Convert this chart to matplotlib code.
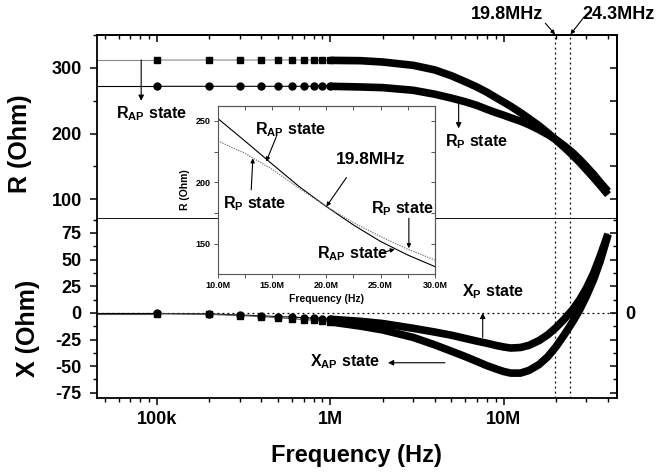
import numpy as np
import matplotlib
matplotlib.use('Agg')
import matplotlib.pyplot as plt
from matplotlib.ticker import FixedLocator, FuncFormatter, LogLocator, MultipleLocator, NullFormatter

plt.rcParams['font.family'] = ['Liberation Sans', 'DejaVu Sans']
plt.rcParams['font.weight'] = 'bold'
plt.rcParams['mathtext.fontset'] = 'custom'
plt.rcParams['mathtext.rm'] = 'Liberation Sans:bold'
plt.rcParams['mathtext.it'] = 'Liberation Sans:bold'
plt.rcParams['mathtext.bf'] = 'Liberation Sans:bold'
plt.rcParams['axes.unicode_minus'] = False

# DATA
freq = [100e3, 200e3, 300e3, 400e3, 500e3, 600e3, 700e3, 800e3, 900e3,
        1e6, 1.5e6, 2e6, 3e6, 4e6, 5e6, 6e6, 7e6, 8e6, 9e6, 10e6,
        11e6, 12.5e6, 14e6, 16e6, 18e6, 20e6, 22.5e6, 25e6, 27.5e6, 30e6,
        33e6, 36e6, 40e6]

r_ap = [312, 312, 312, 312, 312, 312, 312, 312, 312,
        311.5, 311, 309, 304, 297, 288, 279, 271, 263, 255, 248,
        241.5, 232, 223, 212, 201, 190.5, 178.5, 167, 156, 145,
        133, 121.5, 107]
r_p = [272, 272, 272, 272, 272, 272, 272, 272, 272,
       272, 271, 270, 266, 260, 254, 248.5, 243, 237, 232, 228,
       224, 219, 213.5, 206, 198.5, 191, 181, 171, 160.5, 150,
       138, 126, 112]

x_ap = [-0.8, -1.5, -2.5, -3.5, -4.5, -5.5, -6.3, -7.0, -7.8,
        -8.5, -12.5, -16, -23, -30, -36, -41, -45.5, -49.5, -52.5, -55,
        -56.5, -56.5, -54, -48.5, -41, -32, -20, -8.5, 3, 15.5,
        31, 48, 73]
x_p = [-0.6, -1.0, -2.0, -2.8, -3.5, -4.0, -4.5, -5.0, -5.5,
       -6, -8, -10, -14.5, -18, -21, -24, -26.5, -28.5, -30.5, -32,
       -33, -32.5, -30.5, -26, -20.5, -14, -5.5, 3, 12.5, 23,
       37, 53, 74]

inset_freq = [10e6, 12.5e6, 15e6, 17.5e6, 20e6, 22.5e6, 25e6, 27.5e6, 30e6]
inset_r_ap = [252, 233.7, 215, 196.6, 180.4, 165.4, 152, 141, 131.6]
inset_r_p = [233.7, 223.7, 210.7, 195.3, 180.4, 167.3, 156, 145.7, 137]

f_marks = [19.8e6, 24.3e6]
f_mark_labels = ['19.8MHz', '24.3MHz']

freq = np.array(freq)
r_ap = np.array(r_ap)
r_p = np.array(r_p)
x_ap = np.array(x_ap)
x_p = np.array(x_p)

XMIN, XMAX = 45e3, 45e6
n_sparse = 10   # points up to 1 MHz show as separate markers

fig = plt.figure(figsize=(6.64, 4.74), dpi=100)
ax1 = fig.add_axes([0.146, 0.538, 0.783, 0.388])
ax2 = fig.add_axes([0.146, 0.160, 0.783, 0.378], sharex=ax1)


def draw_series(ax, f, y, marker, ms, thin_color):
    ax.plot([XMIN, f[0]], [y[0], y[0]], color=thin_color, lw=0.8)
    ax.plot(f, y, color=thin_color, lw=0.8)
    ax.plot(f[:n_sparse], y[:n_sparse], ls='none', marker=marker, ms=ms, color='k')
    ax.plot(f[n_sparse - 1:], y[n_sparse - 1:], color='k', lw=5.5,
            solid_capstyle='butt', solid_joinstyle='round')


def arrow(ax, start, end, lw=0.8, ms=8):
    ax.annotate('', xy=end, xytext=start, annotation_clip=False,
                arrowprops=dict(arrowstyle='-|>', color='k', lw=lw,
                                mutation_scale=ms, shrinkA=0, shrinkB=0))


# top panel: R
draw_series(ax1, freq, r_ap, 's', 4.5, '#888888')
draw_series(ax1, freq, r_p, 'o', 5.0, 'k')

# bottom panel: X
ax2.axhline(0, color='k', lw=0.9, ls=(0, (1.5, 2.5)))
draw_series(ax2, freq, x_p, 'o', 5.0, 'k')
draw_series(ax2, freq, x_ap, 's', 4.5, '#555555')

for ax in (ax1, ax2):
    for fm in f_marks:
        ax.axvline(fm, color='k', lw=0.9, ls=(0, (1.5, 2.5)))

ax1.set_xscale('log')
ax1.set_xlim(XMIN, XMAX)
ax1.set_ylim(70, 350)
ax2.set_ylim(-80, 88)

# ticks
for ax in (ax1, ax2):
    for s in ax.spines.values():
        s.set_linewidth(1.3)
    ax.tick_params(which='major', direction='out', length=5, width=1.1, labelsize=13, pad=6)
    ax.tick_params(which='minor', direction='out', length=3, width=1.0)

ax1.yaxis.set_major_locator(FixedLocator([100, 200, 300]))
ax1.yaxis.set_minor_locator(MultipleLocator(50))
ax1.tick_params(axis='x', which='both', bottom=False, labelbottom=False)
ax2.yaxis.set_major_locator(MultipleLocator(25))
ax2.yaxis.set_minor_locator(MultipleLocator(12.5))
ax2.xaxis.set_major_locator(FixedLocator([1e5, 1e6, 1e7]))
ax2.xaxis.set_major_formatter(FuncFormatter(lambda v, p: {1e5: '100k', 1e6: '1M', 1e7: '10M'}.get(v, '')))
ax2.xaxis.set_minor_locator(LogLocator(base=10, subs=np.arange(2, 10)))
ax2.xaxis.set_minor_formatter(NullFormatter())
ax2.tick_params(axis='x', which='major', pad=4)
ax2.spines['top'].set_visible(False)

# mirrored ticks pointing inward
top1 = ax1.secondary_xaxis('top')
top1.xaxis.set_major_locator(FixedLocator([1e5, 1e6, 1e7]))
top1.xaxis.set_minor_locator(LogLocator(base=10, subs=np.arange(2, 10)))
top1.xaxis.set_major_formatter(NullFormatter())
top1.xaxis.set_minor_formatter(NullFormatter())
top1.tick_params(which='major', direction='in', length=5, width=1.1)
top1.tick_params(which='minor', direction='in', length=3, width=1.0)

right1 = ax1.secondary_yaxis('right')
right1.yaxis.set_major_locator(MultipleLocator(50))
right1.yaxis.set_major_formatter(NullFormatter())
right1.tick_params(which='major', direction='in', length=5, width=1.1)

right2 = ax2.secondary_yaxis('right')
right2.yaxis.set_major_locator(MultipleLocator(25))
right2.yaxis.set_minor_locator(MultipleLocator(12.5))
right2.yaxis.set_major_formatter(FuncFormatter(lambda v, p: '0' if abs(v) < 1e-9 else ''))
right2.tick_params(which='major', direction='in', length=5, width=1.1, labelsize=13, pad=6)
right2.tick_params(which='minor', direction='in', length=3, width=1.0)
for sa in (top1, right1, right2):
    for s in sa.spines.values():
        s.set_linewidth(1.3)

ax1.set_ylabel('R (Ohm)', fontsize=18, fontweight='bold')
ax2.set_ylabel('X (Ohm)', fontsize=18, fontweight='bold')
ax1.yaxis.set_label_coords(-0.125, 0.41)
ax2.yaxis.set_label_coords(-0.11, 0.39)
ax2.set_xlabel('Frequency (Hz)', fontsize=17, fontweight='bold')
ax2.xaxis.set_label_coords(0.5, -0.255)

# annotations, main panels
fs = 11.5
ax1.text(57.6e3, 231, r'R$_{\rm AP}$ state', fontsize=fs, va='center', ha='left')
arrow(ax1, (81e3, 312), (81e3, 250))
ax1.text(4.58e6, 187, r'R$_{\rm P}$ state', fontsize=fs, va='center', ha='left')
arrow(ax1, (5.5e6, 251), (5.5e6, 208))
ax2.text(5.74e6, 20, r'X$_{\rm P}$ state', fontsize=fs, va='center', ha='left')
arrow(ax2, (7.57e6, -23), (7.57e6, 0))
ax2.text(768e3, -46, r'X$_{\rm AP}$ state', fontsize=fs, va='center', ha='left')
arrow(ax2, (4.58e6, -46.8), (2.15e6, -46.8))

ax1.text(16.8e6, 382, f_mark_labels[0], fontsize=13, va='center', ha='right')
arrow(ax1, (17.4e6, 368), (f_marks[0], 351), ms=6)
ax1.text(28.4e6, 382, f_mark_labels[1], fontsize=13, va='center', ha='left')
arrow(ax1, (29.2e6, 378), (f_marks[1], 351), ms=6)

# inset
ax3 = fig.add_axes([0.328, 0.422, 0.327, 0.354])
ax3.set_facecolor('white')
ax3.plot(inset_freq, inset_r_ap, color='k', lw=0.8)
ax3.plot(inset_freq, inset_r_p, color='#777777', lw=0.9, ls=(0, (1, 1)))
ax3.set_xlim(10e6, 30e6)
ax3.set_ylim(125.6, 262)
for s in ax3.spines.values():
    s.set_linewidth(0.8)
    s.set_color('#555555')
ax3.xaxis.set_major_locator(MultipleLocator(5e6))
ax3.xaxis.set_minor_locator(MultipleLocator(2.5e6))
ax3.xaxis.set_major_formatter(FuncFormatter(lambda v, p: f'{v / 1e6:.1f}M'))
ax3.yaxis.set_major_locator(MultipleLocator(50))
ax3.yaxis.set_minor_locator(MultipleLocator(25))
ax3.tick_params(which='major', direction='out', length=3, width=0.7, labelsize=6.5, pad=2, color='#555555')
ax3.tick_params(which='minor', direction='out', length=3, width=0.7, color='#555555')
top3 = ax3.secondary_xaxis('top')
top3.xaxis.set_major_locator(MultipleLocator(2.5e6))
top3.xaxis.set_major_formatter(NullFormatter())
top3.tick_params(direction='in', length=3, width=0.7, color='#555555')
right3 = ax3.secondary_yaxis('right')
right3.yaxis.set_major_locator(MultipleLocator(25))
right3.yaxis.set_major_formatter(NullFormatter())
right3.tick_params(direction='in', length=3, width=0.7, color='#555555')
for sa in (top3, right3):
    for s in sa.spines.values():
        s.set_linewidth(0.8)
        s.set_color('#555555')
ax3.set_xlabel('Frequency (Hz)', fontsize=7.5, fontweight='bold', labelpad=3)
ax3.set_ylabel('R (Ohm)', fontsize=7.5, fontweight='bold', labelpad=4)

ax3.text(13.4e6, 242.7, r'R$_{\rm AP}$ state', fontsize=fs, va='center', ha='left')
arrow(ax3, (15.4e6, 237.3), (14.46e6, 217), ms=6)
ax3.text(10.46e6, 183, r'R$_{\rm P}$ state', fontsize=fs, va='center', ha='left')
arrow(ax3, (13.08e6, 194), (13.23e6, 219.6), ms=6)
ax3.text(20.9e6, 218.3, '19.8MHz', fontsize=12.5, va='center', ha='left')
arrow(ax3, (21.85e6, 204), (20.0e6, 180.4), ms=6)
ax3.text(24.15e6, 179, r'R$_{\rm P}$ state', fontsize=fs, va='center', ha='left')
arrow(ax3, (27.6e6, 170.9), (27.6e6, 146.5), ms=6)
ax3.text(19.1e6, 142.4, r'R$_{\rm AP}$ state', fontsize=fs, va='center', ha='left')
arrow(ax3, (24.9e6, 142.4), (26.3e6, 145.7), ms=6)

fig.savefig('out.png', dpi=100)
